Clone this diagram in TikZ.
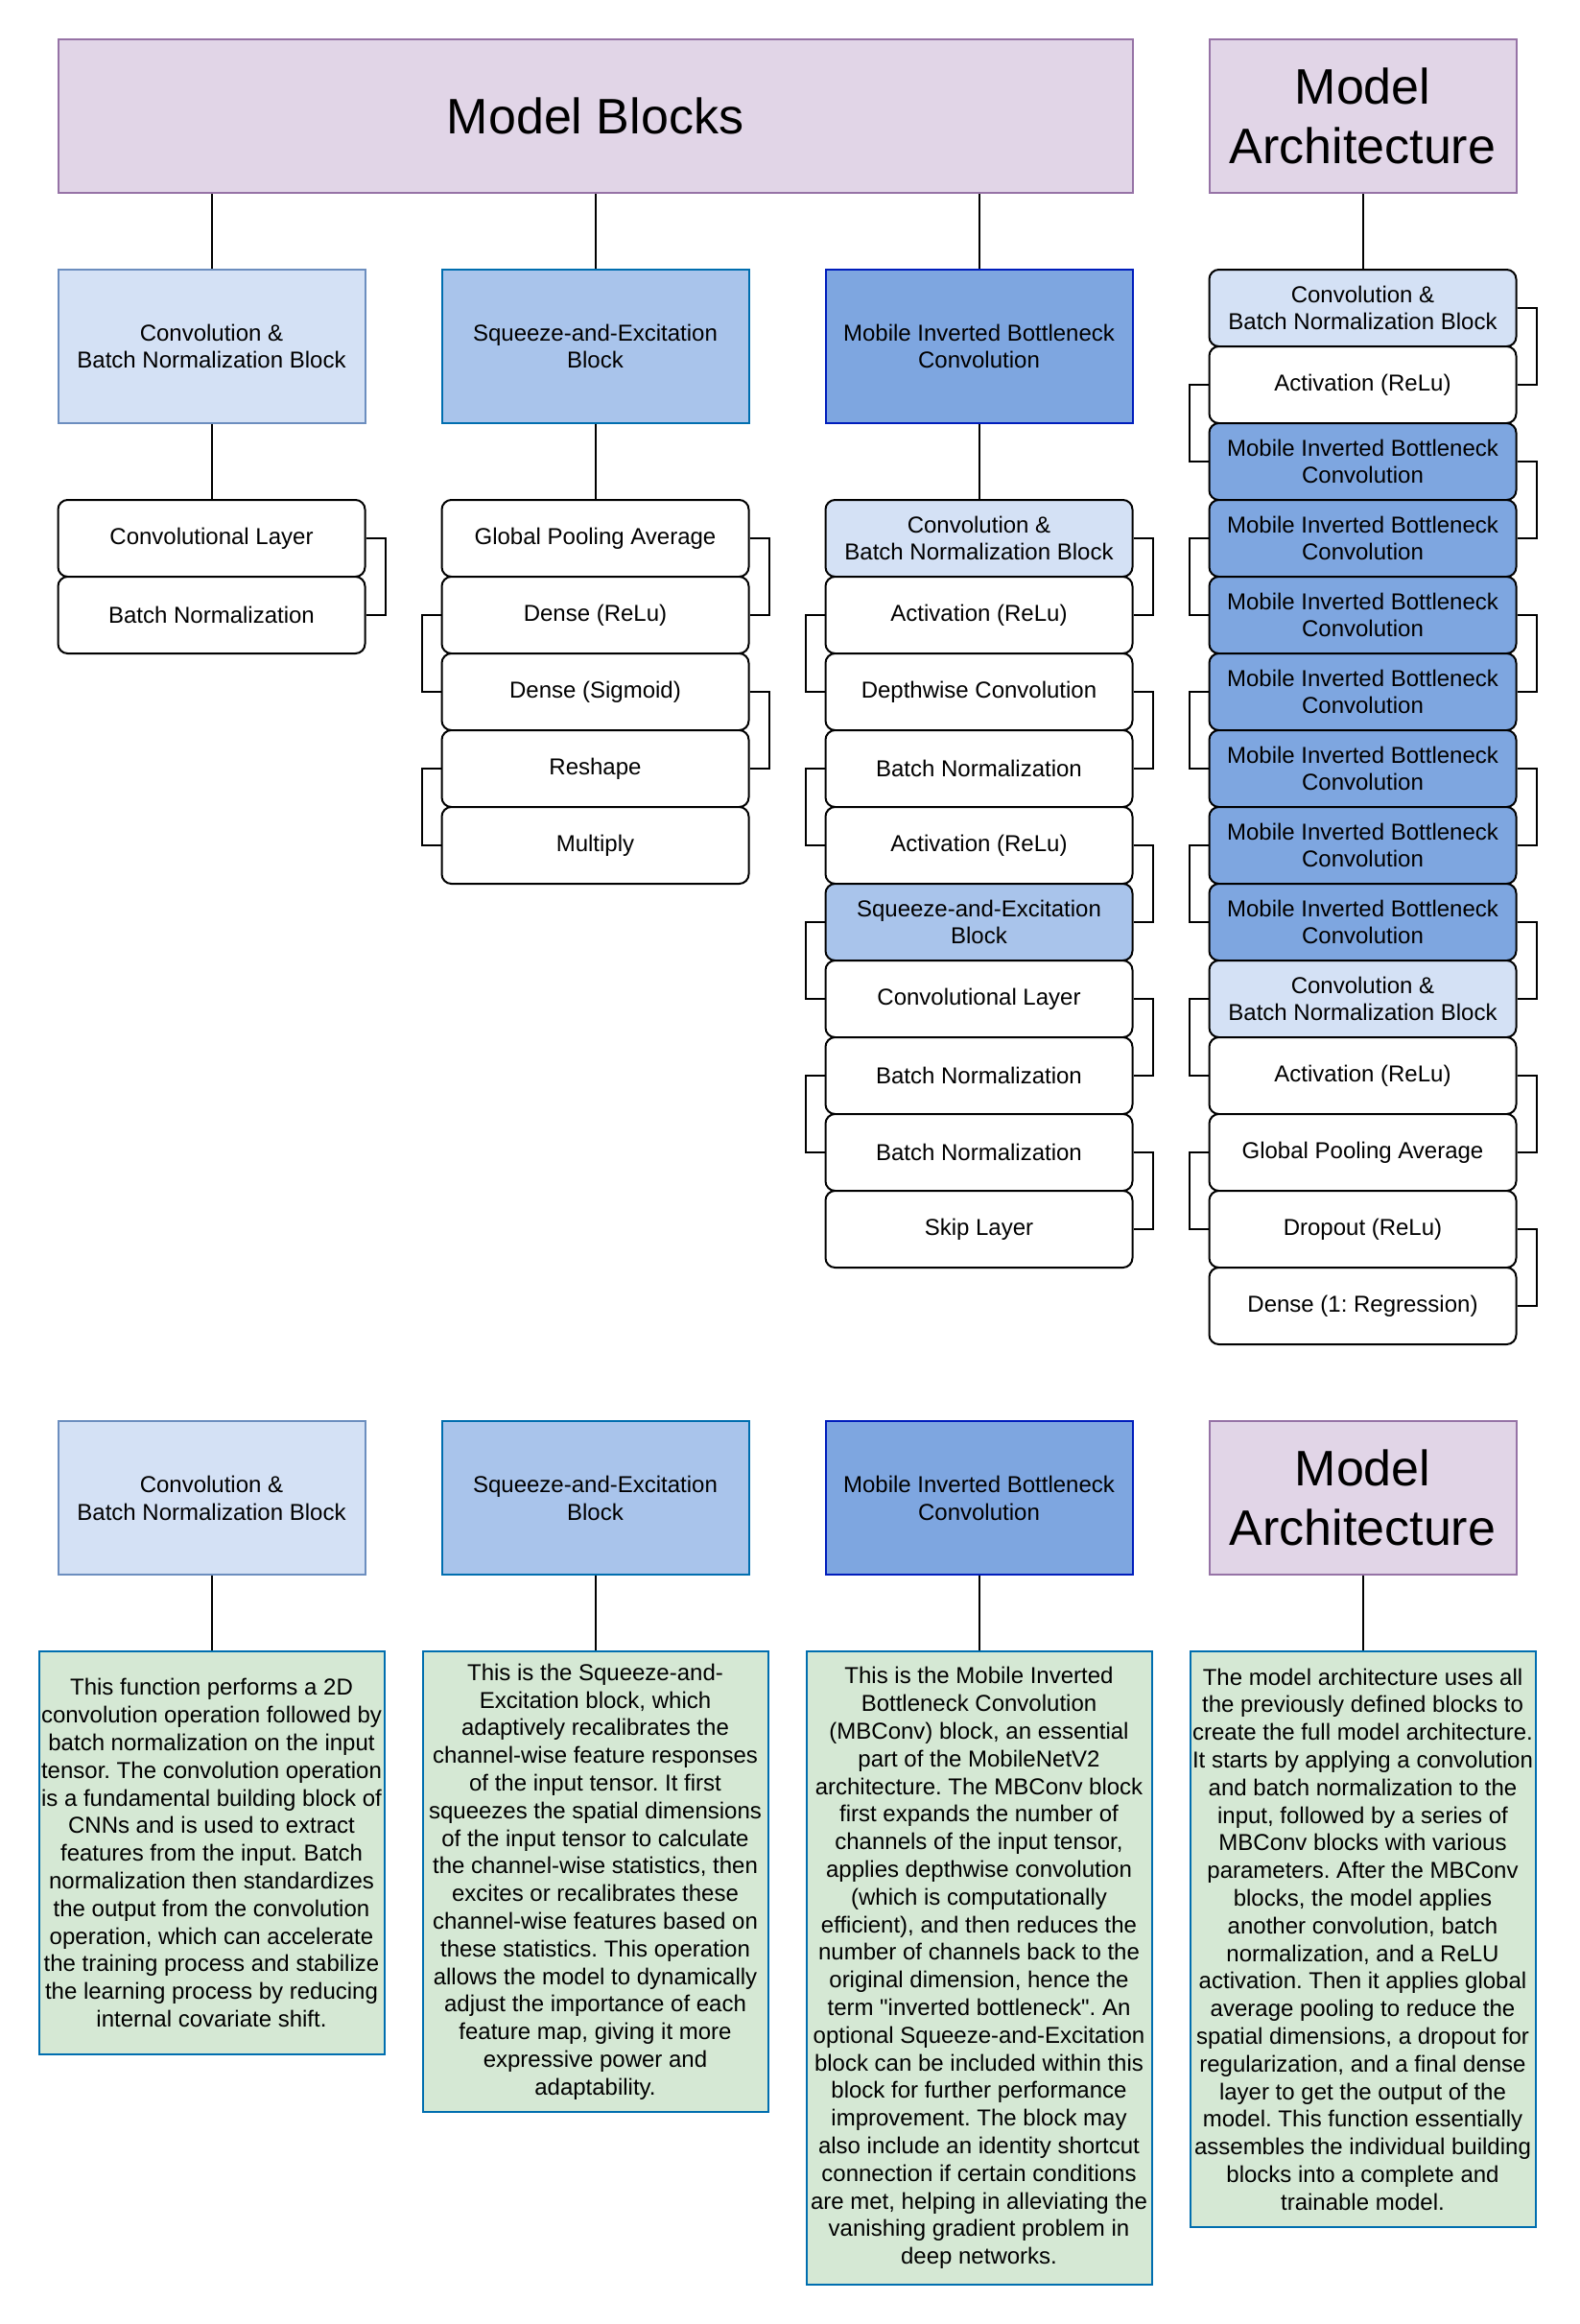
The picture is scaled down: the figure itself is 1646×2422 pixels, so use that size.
\documentclass[tikz,border=0pt]{standalone}
\usepackage{fontspec}
\setmainfont{Liberation Sans}[Ligatures=TeXOff]
\frenchspacing
\definecolor{purpF}{HTML}{E1D5E7}
\definecolor{purpD}{HTML}{9673A6}
\definecolor{cbnF}{HTML}{D4E1F5}
\definecolor{cbnD}{HTML}{6C8EBF}
\definecolor{seF}{HTML}{A9C4EB}
\definecolor{seD}{HTML}{006EAF}
\definecolor{mbF}{HTML}{7EA6E0}
\definecolor{mbD}{HTML}{001DBC}
\definecolor{grnF}{HTML}{D5E8D4}
\definecolor{grnD}{HTML}{006EAF}
\newcommand{\mkbrackets}[2]{%
  \foreach \i in {1,...,#2}{%
    \pgfmathtruncatemacro{\j}{\i+1}%
    \ifodd\i
      \draw[conn] (#1\i.east) -- ++(20,0) |- (#1\j.east);
    \else
      \draw[conn] (#1\i.west) -- ++(-20,0) |- (#1\j.west);
    \fi
  }%
}
\begin{document}
\frenchspacing
\begin{tikzpicture}[x=0.5pt,y=-0.5pt,
  base/.style={draw, line width=1pt, inner sep=0pt, align=center, text=black,
    font=\fontsize{12}{14.4}\selectfont\frenchspacing},
  big/.style={base, minimum width=160pt, minimum height=80pt},
  title/.style={base, fill=purpF, draw=purpD, minimum height=80pt,
    font=\fontsize{26}{31.2}\selectfont},
  stk/.style={base, rounded corners=5pt, minimum width=160pt, minimum height=40pt, fill=white},
  stc/.style={stk, fill=cbnF},
  sts/.style={stk, fill=seF},
  stm/.style={stk, fill=mbF},
  desc/.style={base, fill=grnF, draw=grnD, minimum width=180pt},
  conn/.style={line width=1pt, draw=black}
]
\useasboundingbox (0,0) rectangle (1646,2422);

% ---------- top titles ----------
\node[title, minimum width=560pt] (mb) at (620.5,121) {Model Blocks};
\node[title, minimum width=160pt] (ma) at (1420.5,121) {Model\\Architecture};

% ---------- block headers ----------
\node[big, fill=cbnF, draw=cbnD] (h1) at (220.5,361) {Convolution \&\\Batch Normalization Block};
\node[big, fill=seF, draw=seD] (h2) at (620.5,361) {Squeeze-and-Excitation\\Block};
\node[big, fill=mbF, draw=mbD] (h3) at (1020.5,361) {Mobile Inverted Bottleneck\\Convolution};

% ---------- column 1 ----------
\node[stk] (a1) at (220.5,561) {Convolutional Layer};
\node[stk] (a2) at (220.5,641) {Batch Normalization};

% ---------- column 2 ----------
\node[stk] (b1) at (620.5,561) {Global Pooling Average};
\node[stk] (b2) at (620.5,641) {Dense (ReLu)};
\node[stk] (b3) at (620.5,721) {Dense (Sigmoid)};
\node[stk] (b4) at (620.5,801) {Reshape};
\node[stk] (b5) at (620.5,881) {Multiply};

% ---------- column 3 ----------
\node[stc] (c1) at (1020.5,561) {Convolution \&\\Batch Normalization Block};
\node[stk] (c2) at (1020.5,641) {Activation (ReLu)};
\node[stk] (c3) at (1020.5,721) {Depthwise Convolution};
\node[stk] (c4) at (1020.5,801) {Batch Normalization};
\node[stk] (c5) at (1020.5,881) {Activation (ReLu)};
\node[sts] (c6) at (1020.5,961) {Squeeze-and-Excitation\\Block};
\node[stk] (c7) at (1020.5,1041) {Convolutional Layer};
\node[stk] (c8) at (1020.5,1121) {Batch Normalization};
\node[stk] (c9) at (1020.5,1201) {Batch Normalization};
\node[stk] (c10) at (1020.5,1281) {Skip Layer};

% ---------- column 4 ----------
\node[stc] (d1) at (1420.5,321) {Convolution \&\\Batch Normalization Block};
\node[stk] (d2) at (1420.5,401) {Activation (ReLu)};
\node[stm] (d3) at (1420.5,481) {Mobile Inverted Bottleneck\\Convolution};
\node[stm] (d4) at (1420.5,561) {Mobile Inverted Bottleneck\\Convolution};
\node[stm] (d5) at (1420.5,641) {Mobile Inverted Bottleneck\\Convolution};
\node[stm] (d6) at (1420.5,721) {Mobile Inverted Bottleneck\\Convolution};
\node[stm] (d7) at (1420.5,801) {Mobile Inverted Bottleneck\\Convolution};
\node[stm] (d8) at (1420.5,881) {Mobile Inverted Bottleneck\\Convolution};
\node[stm] (d9) at (1420.5,961) {Mobile Inverted Bottleneck\\Convolution};
\node[stc] (d10) at (1420.5,1041) {Convolution \&\\Batch Normalization Block};
\node[stk] (d11) at (1420.5,1121) {Activation (ReLu)};
\node[stk] (d12) at (1420.5,1201) {Global Pooling Average};
\node[stk] (d13) at (1420.5,1281) {Dropout (ReLu)};
\node[stk] (d14) at (1420.5,1361) {Dense (1: Regression)};

% ---------- top connectors ----------
\draw[conn] (mb.south -| h1.north) -- (h1.north);
\draw[conn] (mb.south -| h2.north) -- (h2.north);
\draw[conn] (mb.south -| h3.north) -- (h3.north);
\draw[conn] (ma.south) -- (d1.north);
\draw[conn] (h1.south) -- (a1.north);
\draw[conn] (h2.south) -- (b1.north);
\draw[conn] (h3.south) -- (c1.north);

% ---------- brackets ----------
\mkbrackets{a}{1}
\mkbrackets{b}{4}
\mkbrackets{c}{9}
\mkbrackets{d}{13}

% ---------- bottom headers ----------
\node[big, fill=cbnF, draw=cbnD] (k1) at (220.5,1561) {Convolution \&\\Batch Normalization Block};
\node[big, fill=seF, draw=seD] (k2) at (620.5,1561) {Squeeze-and-Excitation\\Block};
\node[big, fill=mbF, draw=mbD] (k3) at (1020.5,1561) {Mobile Inverted Bottleneck\\Convolution};
\node[title, minimum width=160pt] (k4) at (1420.5,1561) {Model\\Architecture};

% ---------- descriptions ----------
\node[desc, minimum height=210pt] (g1) at (220.5,1931) {This function performs a 2D\\
convolution operation followed by\\
batch normalization on the input\\
tensor. The convolution operation\\
is a fundamental building block of\\
CNNs and is used to extract\\
features from the input. Batch\\
normalization then standardizes\\
the output from the convolution\\
operation, which can accelerate\\
the training process and stabilize\\
the learning process by reducing\\
internal covariate shift.};

\node[desc, minimum height=240pt] (g2) at (620.5,1961) {This is the Squeeze-and-\\
Excitation block, which\\
adaptively recalibrates the\\
channel-wise feature responses\\
of the input tensor. It first\\
squeezes the spatial dimensions\\
of the input tensor to calculate\\
the channel-wise statistics, then\\
excites or recalibrates these\\
channel-wise features based on\\
these statistics. This operation\\
allows the model to dynamically\\
adjust the importance of each\\
feature map, giving it more\\
expressive power and\\
adaptability.};

\node[desc, minimum height=330pt] (g3) at (1020.5,2051) {This is the Mobile Inverted\\
Bottleneck Convolution\\
(MBConv) block, an essential\\
part of the MobileNetV2\\
architecture. The MBConv block\\
first expands the number of\\
channels of the input tensor,\\
applies depthwise convolution\\
(which is computationally\\
efficient), and then reduces the\\
number of channels back to the\\
original dimension, hence the\\
term "inverted bottleneck". An\\
optional Squeeze-and-Excitation\\
block can be included within this\\
block for further performance\\
improvement. The block may\\
also include an identity shortcut\\
connection if certain conditions\\
are met, helping in alleviating the\\
vanishing gradient problem in\\
deep networks.};

\node[desc, minimum height=300pt] (g4) at (1420.5,2021) {The model architecture uses all\\
the previously defined blocks to\\
create the full model architecture.\\
It starts by applying a convolution\\
and batch normalization to the\\
input, followed by a series of\\
MBConv blocks with various\\
parameters. After the MBConv\\
blocks, the model applies\\
another convolution, batch\\
normalization, and a ReLU\\
activation. Then it applies global\\
average pooling to reduce the\\
spatial dimensions, a dropout for\\
regularization, and a final dense\\
layer to get the output of the\\
model. This function essentially\\
assembles the individual building\\
blocks into a complete and\\
trainable model.};

% ---------- bottom connectors ----------
\draw[conn] (k1.south) -- (g1.north);
\draw[conn] (k2.south) -- (g2.north);
\draw[conn] (k3.south) -- (g3.north);
\draw[conn] (k4.south) -- (g4.north);
\end{tikzpicture}
\end{document}
